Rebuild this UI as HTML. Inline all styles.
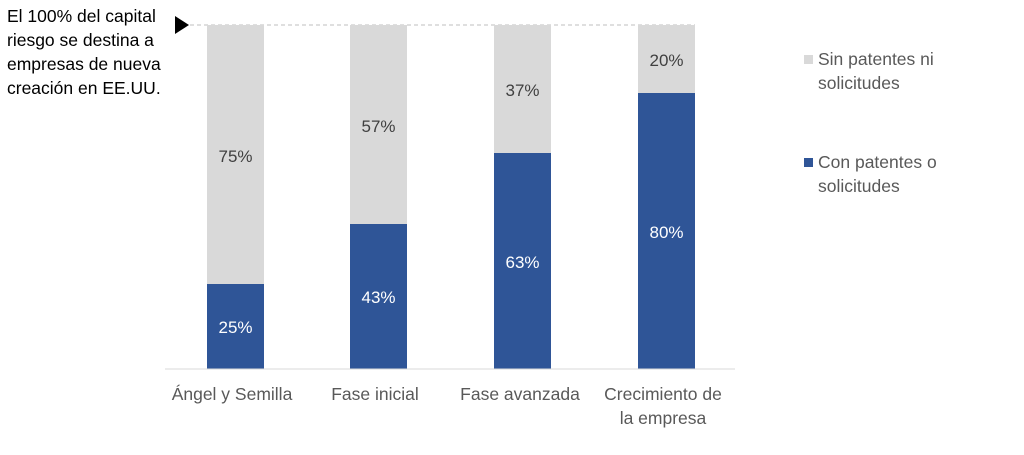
<!DOCTYPE html>
<html><head><style>
body{margin:0;background:#fff;width:1024px;height:450px;overflow:hidden}
svg text{font-family:"Liberation Sans",sans-serif}
</style></head><body>
<svg width="1024" height="450" xmlns="http://www.w3.org/2000/svg">
<g font-size="17.5" fill="#000">
<text x="7" y="22">El 100% del capital</text>
<text x="7" y="46">riesgo se destina a</text>
<text x="7" y="70">empresas de nueva</text>
<text x="7" y="94">creación en EE.UU.</text>
</g>
<polygon points="175,16 189,25 175,34" fill="#000"/>
<line x1="190" y1="25" x2="695" y2="25" stroke="#bfbfbf" stroke-dasharray="4,3" stroke-width="1"/>
<g>
<rect x="207" y="25" width="57" height="259" fill="#d9d9d9"/>
<rect x="207" y="284" width="57" height="85" fill="#2f5597"/>
<rect x="350" y="25" width="57" height="199" fill="#d9d9d9"/>
<rect x="350" y="224" width="57" height="145" fill="#2f5597"/>
<rect x="494" y="25" width="57" height="128" fill="#d9d9d9"/>
<rect x="494" y="153" width="57" height="216" fill="#2f5597"/>
<rect x="638" y="25" width="57" height="68" fill="#d9d9d9"/>
<rect x="638" y="93" width="57" height="276" fill="#2f5597"/>
</g>
<line x1="165" y1="369" x2="735" y2="369" stroke="#d9d9d9" stroke-width="1"/>
<g font-size="17" text-anchor="middle" fill="#404040">
<text x="235.5" y="162">75%</text>
<text x="378.5" y="132">57%</text>
<text x="522.5" y="96">37%</text>
<text x="666.5" y="66">20%</text>
</g>
<g font-size="17" text-anchor="middle" fill="#fff">
<text x="235.5" y="333">25%</text>
<text x="378.5" y="303">43%</text>
<text x="522.5" y="268">63%</text>
<text x="666.5" y="238">80%</text>
</g>
<g font-size="17.5" text-anchor="middle" fill="#595959">
<text x="232" y="400">Ángel y Semilla</text>
<text x="375" y="400">Fase inicial</text>
<text x="520" y="400">Fase avanzada</text>
<text x="663" y="400">Crecimiento de</text>
<text x="663" y="424">la empresa</text>
</g>
<rect x="804" y="55" width="9" height="9" fill="#d9d9d9"/>
<rect x="804" y="158" width="9" height="9" fill="#2f5597"/>
<g font-size="17.5" fill="#595959">
<text x="818" y="65">Sin patentes ni</text>
<text x="818" y="89">solicitudes</text>
<text x="818" y="168">Con patentes o</text>
<text x="818" y="192">solicitudes</text>
</g>
</svg>
</body></html>
